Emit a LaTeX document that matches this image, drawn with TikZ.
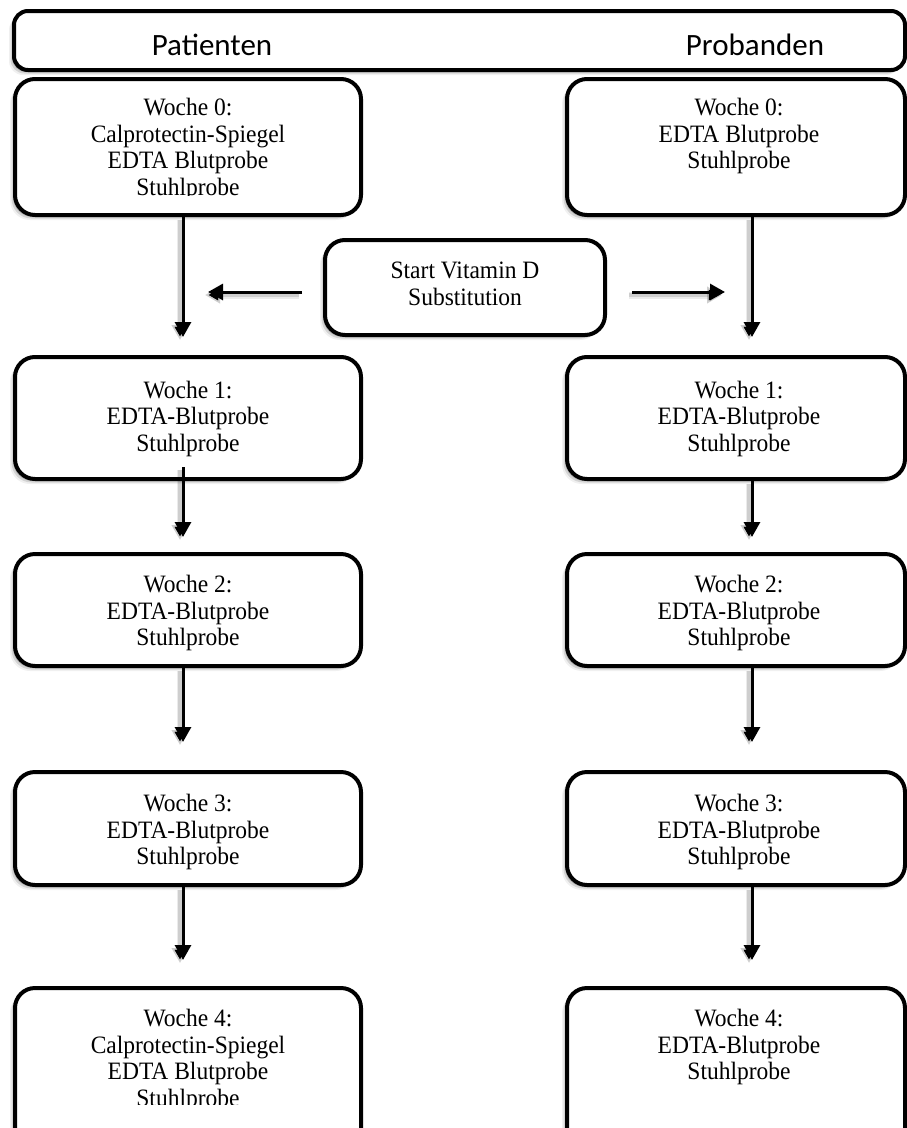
\documentclass[tikz,border=0pt]{standalone}
\usepackage{fontspec}
\usetikzlibrary{shadows,arrows.meta,calc}
\newfontfamily\tnr[FakeStretch=0.94]{Liberation Serif}
\newfontfamily\hdrfont{Carlito}
\begin{document}
\begin{tikzpicture}[x=1pt,y=-1pt,
  boxst/.style={draw=black, line width=4pt, rounded corners=20pt, fill=white, inner sep=0pt,
    drop shadow={shadow xshift=-5pt, shadow yshift=-5pt, fill=black, opacity=0.06},
    drop shadow={shadow xshift=-3.5pt, shadow yshift=-3.5pt, fill=black, opacity=0.12},
    drop shadow={shadow xshift=-2pt, shadow yshift=-2pt, fill=black, opacity=0.18}},
  txt/.style={align=center, inner sep=0pt, font=\tnr\fontsize{25}{26.7}\selectfont},
  hdrtxt/.style={inner sep=0pt, font=\hdrfont\fontsize{31}{31}\selectfont},
  arr/.style={line width=3pt, -{Triangle[width=16pt,length=15pt]},
    preaction={draw=black, draw opacity=0.08, line width=7pt, transform canvas={shift={(-3pt,-3pt)}}},
    preaction={draw=black, draw opacity=0.12, line width=4pt, transform canvas={shift={(-3pt,-3pt)}}}}
]
\useasboundingbox (0,0) rectangle (907,1128);
\clip (0,0) rectangle (907,1128);

% header
\node[boxst, rounded corners=14pt, minimum width=891pt, minimum height=59pt] (hdr) at (459.5,40.5) {};
\node[hdrtxt, anchor=base] (pat) at (212,55) {Patienten};
\node[hdrtxt, anchor=base] (prob) at (755,55) {Probanden};

% left column boxes
\node[boxst, minimum width=346pt, minimum height=136pt] (L0) at (188,147) {};
\node[boxst, minimum width=346pt, minimum height=122pt] (L1) at (188,418) {};
\node[boxst, minimum width=346pt, minimum height=112pt] (L2) at (188,610) {};
\node[boxst, minimum width=346pt, minimum height=113pt] (L3) at (188,828.5) {};
\node[boxst, minimum width=346pt, minimum height=162pt] (L4) at (188,1069) {};

% right column boxes
\node[boxst, minimum width=338pt, minimum height=136pt] (R0) at (736,147) {};
\node[boxst, minimum width=338pt, minimum height=122pt] (R1) at (736,418) {};
\node[boxst, minimum width=338pt, minimum height=112pt] (R2) at (736,610) {};
\node[boxst, minimum width=338pt, minimum height=113pt] (R3) at (736,828.5) {};
\node[boxst, minimum width=338pt, minimum height=162pt] (R4) at (736,1069) {};

% start box
\node[boxst, minimum width=280pt, minimum height=95pt] (S) at (465,287.5) {};

% texts
\begin{scope}
\clip (16,80) rectangle (360,195.5);
\node[txt, anchor=north] (L0t) at (188,98) {Woche 0:\\Calprotectin-Spiegel\\EDTA Blutprobe\\Stuhlprobe};
\end{scope}
\node[txt, anchor=north] (R0t) at (739,98) {Woche 0:\\EDTA Blutprobe\\Stuhlprobe};
\node[txt, anchor=north] (St) at (465,262) {Start Vitamin D\\Substitution};
\node[txt, anchor=north] (L1t) at (188,380.5) {Woche 1:\\EDTA-Blutprobe\\Stuhlprobe};
\node[txt, anchor=north] (R1t) at (739,380.5) {Woche 1:\\EDTA-Blutprobe\\Stuhlprobe};
\node[txt, anchor=north] (L2t) at (188,575) {Woche 2:\\EDTA-Blutprobe\\Stuhlprobe};
\node[txt, anchor=north] (R2t) at (739,575) {Woche 2:\\EDTA-Blutprobe\\Stuhlprobe};
\node[txt, anchor=north] (L3t) at (188,794) {Woche 3:\\EDTA-Blutprobe\\Stuhlprobe};
\node[txt, anchor=north] (R3t) at (739,794) {Woche 3:\\EDTA-Blutprobe\\Stuhlprobe};
\begin{scope}
\clip (16,990) rectangle (360,1104.5);
\node[txt, anchor=north] (L4t) at (188,1009) {Woche 4:\\Calprotectin-Spiegel\\EDTA Blutprobe\\Stuhlprobe};
\end{scope}
\node[txt, anchor=north] (R4t) at (739,1009) {Woche 4:\\EDTA-Blutprobe\\Stuhlprobe};

% arrow tips
\coordinate (tL1) at (183,337);
\coordinate (tL2) at (183,537);
\coordinate (tL3) at (183,742);
\coordinate (tL4) at (183,960);
\coordinate (tR1) at (752,337);
\coordinate (tR2) at (752,537);
\coordinate (tR3) at (752,742);
\coordinate (tR4) at (752,960);
\coordinate (tSL) at (208,292);
\coordinate (tSR) at (725,292);

% arrows
\draw[arr] (L0.south -| tL1) -- (tL1);
\draw[arr] ($(L1.south -| tL2)+(0,-14)$) -- (tL2);
\draw[arr] (L2.south -| tL3) -- (tL3);
\draw[arr] (L3.south -| tL4) -- (tL4);
\draw[arr] (R0.south -| tR1) -- (tR1);
\draw[arr] (R1.south -| tR2) -- (tR2);
\draw[arr] (R2.south -| tR3) -- (tR3);
\draw[arr] (R3.south -| tR4) -- (tR4);
\draw[arr] ($(S.west |- tSL)+(-21,0)$) -- (tSL);
\draw[arr] ($(S.east |- tSR)+(25,0)$) -- (tSR);
\end{tikzpicture}
\end{document}
